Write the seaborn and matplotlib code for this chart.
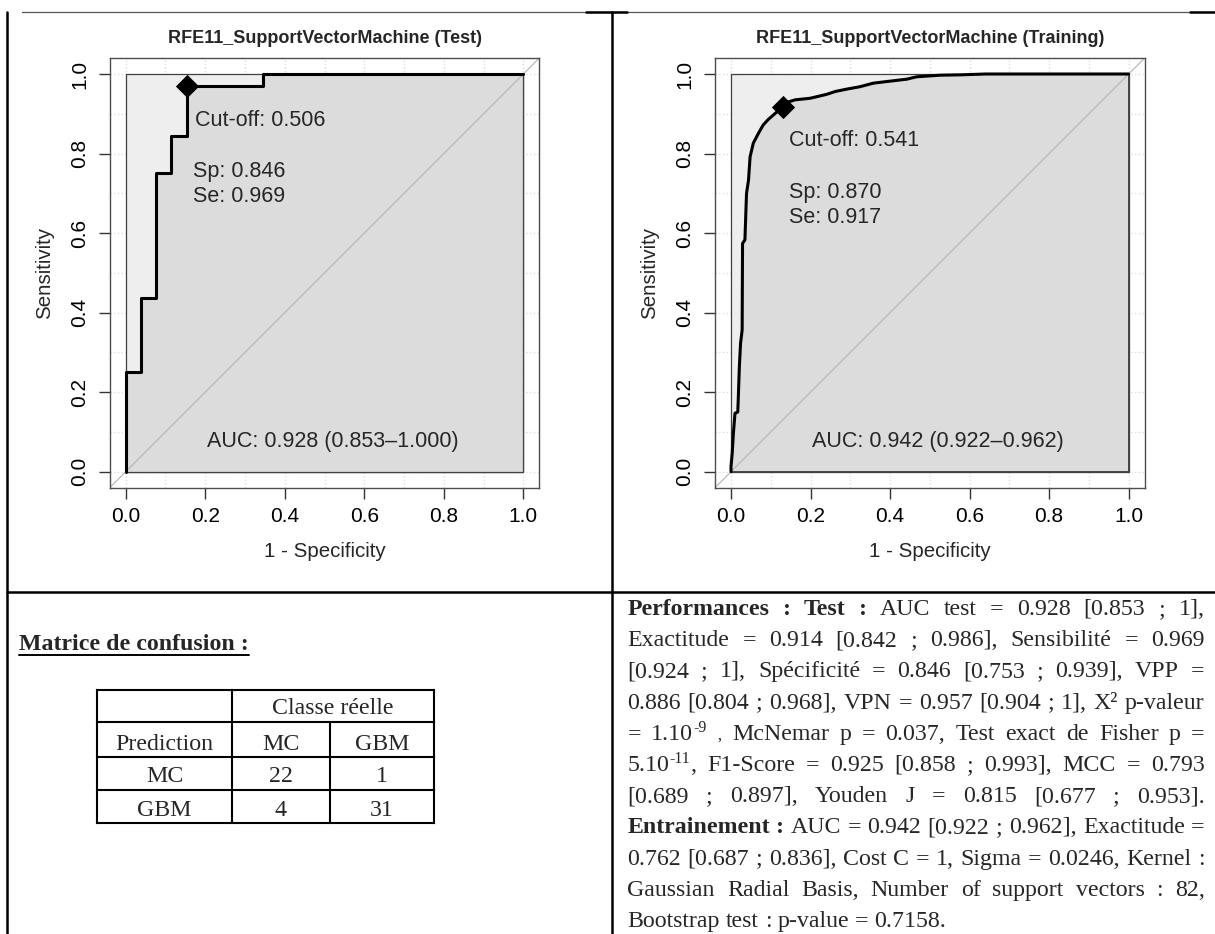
import re
import numpy as np
import matplotlib
matplotlib.use("Agg")
import matplotlib.pyplot as plt
import seaborn as sns

sns.set_theme(style="white")
plt.rcParams["font.family"] = ["Liberation Sans", "DejaVu Sans"]

# ---------------------------------------------------------
# Data
# ---------------------------------------------------------
test_fpr = [0.0, 0.0, 0.038, 0.038, 0.077, 0.077, 0.115, 0.115, 0.154, 0.154, 0.346, 0.346, 1.0]
test_tpr = [0.0, 0.25, 0.25, 0.438, 0.438, 0.75, 0.75, 0.844, 0.844, 0.969, 0.969, 1.0, 1.0]
test_cutoff, test_sp, test_se = 0.506, 0.846, 0.969
test_auc = (0.928, 0.853, 1.000)

train_fpr = [0.000, 0.000, 0.003, 0.006, 0.010, 0.017, 0.018, 0.021, 0.024, 0.028,
             0.029, 0.035, 0.039, 0.044, 0.048, 0.056, 0.069, 0.081, 0.094, 0.110,
             0.130, 0.145, 0.161, 0.199, 0.241, 0.262, 0.291, 0.324, 0.358, 0.391,
             0.442, 0.467, 0.526, 0.580, 0.640, 1.000]
train_tpr = [0.000, 0.013, 0.046, 0.097, 0.147, 0.150, 0.176, 0.264, 0.323, 0.356,
             0.574, 0.583, 0.700, 0.733, 0.792, 0.826, 0.851, 0.872, 0.886, 0.900,
             0.917, 0.930, 0.935, 0.939, 0.949, 0.956, 0.962, 0.968, 0.977, 0.981,
             0.987, 0.993, 0.997, 0.998, 1.000, 1.000]
train_cutoff, train_sp, train_se = 0.541, 0.870, 0.917
train_auc = (0.942, 0.922, 0.962)

classes = ["MC", "GBM"]
conf_counts = [[22, 1], [4, 31]]

perf_lines = [
    "**Performances :** **Test :** AUC test = 0.928 [0.853 ; 1],",
    "Exactitude = 0.914 [0.842 ; 0.986], Sensibilité = 0.969",
    "[0.924 ; 1], Spécificité = 0.846 [0.753 ; 0.939], VPP =",
    "0.886 [0.804 ; 0.968], VPN = 0.957 [0.904 ; 1], X² p-valeur",
    "= 1.10^{-9} _{,} McNemar p = 0.037, Test exact de Fisher p =",
    "5.10^{-11}, F1-Score = 0.925 [0.858 ; 0.993], MCC = 0.793",
    "[0.689 ; 0.897], Youden J = 0.815 [0.677 ; 0.953].",
    "**Entrainement :** AUC = 0.942 [0.922 ; 0.962], Exactitude =",
    "0.762 [0.687 ; 0.836], Cost C = 1, Sigma = 0.0246, Kernel :",
    "Gaussian Radial Basis, Number of support vectors : 82,",
    "Bootstrap test : p-value = 0.7158.",
]

W, H = 1215, 934
fig = plt.figure(figsize=(W / 100, H / 100), dpi=100)

# overlay in pixel coordinates for the page table / text
ov = fig.add_axes([0, 0, 1, 1], zorder=-1)
ov.set_xlim(0, W)
ov.set_ylim(H, 0)
ov.axis("off")


# ---------------------------------------------------------
# ROC panels (pROC look)
# ---------------------------------------------------------
def roc_panel(left_px, fpr, tpr, cutoff, sp, se, auc, title, txt):
    frame = 429.5
    ax = fig.add_axes([left_px / W, (H - 487.6) / H, frame / W, frame / H])
    ax.set_xlim(-0.04, 1.04)
    ax.set_ylim(-0.04, 1.04)
    for g in np.linspace(0, 1, 11):
        ax.axvline(g, color="#DDDDDD", ls=":", lw=1, zorder=0.5)
        ax.axhline(g, color="#DDDDDD", ls=":", lw=1, zorder=0.5)
    ax.fill([0, 1, 1, 0], [0, 0, 1, 1], facecolor="#EEEEEE", edgecolor="#404040", lw=0.9, zorder=1)
    ax.fill(list(fpr) + [1.0, 0.0], list(tpr) + [0.0, 0.0], facecolor="gainsboro",
            edgecolor="#404040", lw=0.9, zorder=1.1)
    ax.axline((0, 0), (1, 1), color="#B4B4B4", lw=0.8, zorder=1.5)
    sns.lineplot(x=fpr, y=tpr, sort=False, estimator=None, color="black", lw=2.2, ax=ax, zorder=2)
    sns.scatterplot(x=[1 - sp], y=[se], marker="D", s=140, color="black", linewidth=0, ax=ax, zorder=3)

    (cx, cy), (sx, sy), sey = txt
    ax.text(cx, cy, f"Cut-off: {cutoff:.3f}", fontsize=15.5, ha="left", va="center", zorder=4)
    ax.text(sx, sy, f"Sp: {sp:.3f}", fontsize=15.5, ha="left", va="center", zorder=4)
    ax.text(sx, sey, f"Se: {se:.3f}", fontsize=15.5, ha="left", va="center", zorder=4)
    ax.text(0.52, 0.077, f"AUC: {auc[0]:.3f} ({auc[1]:.3f}\u2013{auc[2]:.3f})",
            fontsize=15.5, ha="center", va="center", zorder=4)

    ticks = [0.0, 0.2, 0.4, 0.6, 0.8, 1.0]
    ax.set_xticks(ticks)
    ax.set_yticks(ticks)
    ax.set_xticklabels([f"{t:.1f}" for t in ticks])
    ax.set_yticklabels([f"{t:.1f}" for t in ticks])
    ax.tick_params(axis="both", bottom=True, left=True, direction="out", length=8, width=1,
                   color="#333333", labelsize=15, labelcolor="black")
    ax.tick_params(axis="x", pad=6)
    ax.tick_params(axis="y", pad=7)
    for lab in ax.get_yticklabels():
        lab.set_rotation(90)
        lab.set_va("center")
    for s in ax.spines.values():
        s.set_color("#4d4d4d")
        s.set_linewidth(1)
    ax.grid(False)
    ax.set_xlabel("1 - Specificity", fontsize=14.8, va="center")
    ax.xaxis.set_label_coords(0.5, -0.149)
    ax.set_ylabel("Sensitivity", fontsize=14.8, va="center")
    ax.yaxis.set_label_coords(-0.152, 0.5)
    ax.set_title(title, fontsize=13, fontweight="bold", y=1.046, va="center", pad=0)
    return ax


roc_panel(109.8, test_fpr, test_tpr, test_cutoff, test_sp, test_se, test_auc,
          "RFE11_SupportVectorMachine (Test)",
          ((0.173, 0.883), (0.168, 0.754), 0.692))
roc_panel(715.1, train_fpr, train_tpr, train_cutoff, train_sp, train_se, train_auc,
          "RFE11_SupportVectorMachine (Training)",
          ((0.147, 0.834), (0.145, 0.7025), 0.640))

# ---------------------------------------------------------
# Page table borders
# ---------------------------------------------------------
ov.plot([22, W], [12, 12], color="#555555", lw=0.9)
ov.plot([586, 627], [12, 12], color="black", lw=1.8)
ov.plot([1190, W], [12, 12], color="black", lw=1.8)
ov.plot([7, 7], [12, H], color="black", lw=1.8)
ov.plot([612, 612], [12, H], color="black", lw=1.8)
ov.plot([7, W], [591.5, 591.5], color="black", lw=1.8)

SERIF = "Liberation Serif"
BODY = 17.2
renderer = fig.canvas.get_renderer()

# Confusion matrix block
title_txt = ov.text(19, 650, "Matrice de confusion :", family=SERIF, fontsize=BODY,
                    fontweight="bold", ha="left", va="baseline")
tw = title_txt.get_window_extent(renderer).width
ov.plot([19, 19 + tw], [655, 655], color="black", lw=1.4)

cols = [97.0, 232.0, 329.7, 434.3]
rows = [690, 722, 757, 790, 823.3]
tl = dict(color="black", lw=1.5, solid_capstyle="projecting")
for y in rows:
    ov.plot([cols[0], cols[-1]], [y, y], **tl)
ov.plot([cols[0], cols[0]], [rows[0], rows[-1]], **tl)
ov.plot([cols[1], cols[1]], [rows[0], rows[-1]], **tl)
ov.plot([cols[3], cols[3]], [rows[0], rows[-1]], **tl)
ov.plot([cols[2], cols[2]], [rows[1], rows[-1]], **tl)


def cell(text, c0, c1, r):
    ov.text((cols[c0] + cols[c1]) / 2, rows[r + 1] - 7.5, text, family=SERIF, fontsize=BODY,
            ha="center", va="baseline")


cell("Classe réelle", 1, 3, 0)
cell("Prediction", 0, 1, 1)
cell(classes[0], 1, 2, 1)
cell(classes[1], 2, 3, 1)
for i, name in enumerate(classes):
    cell(name, 0, 1, 2 + i)
    cell(str(conf_counts[i][0]), 1, 2, 2 + i)
    cell(str(conf_counts[i][1]), 2, 3, 2 + i)

# ---------------------------------------------------------
# Justified performance paragraph
# ---------------------------------------------------------
STY = {
    "n": dict(fontsize=BODY),
    "b": dict(fontsize=BODY, fontweight="bold"),
    "sup": dict(fontsize=11.5),
    "small": dict(fontsize=11.5),
}


def parse_words(line):
    words, bold = [], False
    for raw in line.split(" "):
        w = raw
        if w.startswith("**"):
            bold, w = True, w[2:]
        end_b = w.endswith("**")
        if end_b:
            w = w[:-2]
        segs, pos = [], 0
        for m in re.finditer(r"\^\{([^}]*)\}|_\{([^}]*)\}", w):
            if m.start() > pos:
                segs.append((w[pos:m.start()], "b" if bold else "n"))
            segs.append((m.group(1), "sup") if m.group(1) is not None else (m.group(2), "small"))
            pos = m.end()
        if pos < len(w):
            segs.append((w[pos:], "b" if bold else "n"))
        words.append(segs)
        if end_b:
            bold = False
    return words


def draw_line(line, x0, x1, yb, justify):
    words = parse_words(line)
    placed, widths = [], []
    for segs in words:
        arts, ww = [], 0.0
        for txt, kind in segs:
            dy = -8 if kind == "sup" else 0
            t = ov.text(0, yb + dy, txt, family=SERIF, ha="left", va="baseline", **STY[kind])
            w = t.get_window_extent(renderer).width
            arts.append((t, ww))
            ww += w + (0.5 if kind == "sup" else 0)
        placed.append(arts)
        widths.append(ww)
    if justify and len(words) > 1:
        gap = (x1 - x0 - sum(widths)) / (len(words) - 1)
    else:
        gap = 6.0
    x = x0
    for arts, ww in zip(placed, widths):
        for t, off in arts:
            t.set_x(x + off)
        x += ww + gap


for i, line in enumerate(perf_lines):
    draw_line(line, 627.4, 1204.6, 615 + i * 31.2, justify=(i < len(perf_lines) - 1))

fig.savefig("out.png", dpi=100)
